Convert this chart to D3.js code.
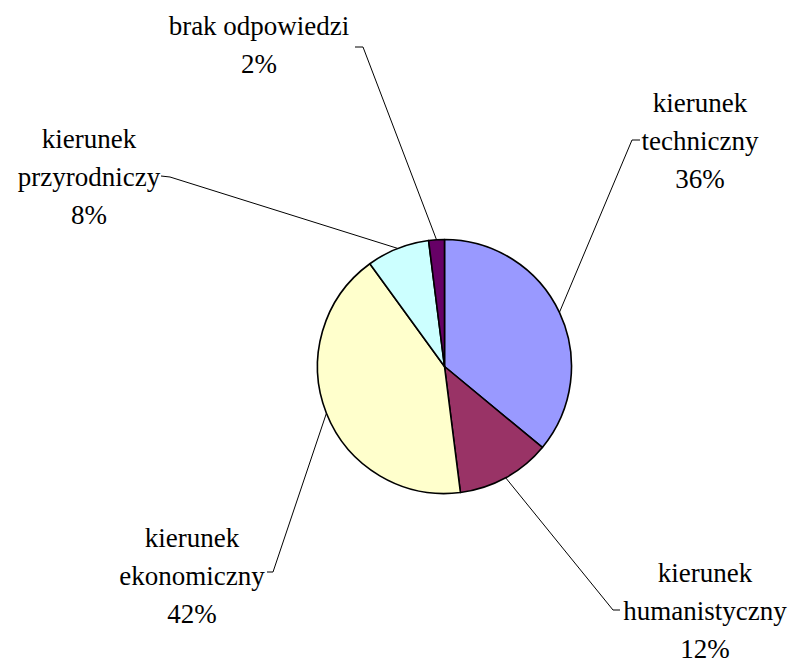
<!DOCTYPE html>
<html>
<head>
<script src="https://cdn.jsdelivr.net/npm/d3@7/dist/d3.min.js"></script>
<style>
@font-face { font-family: "RefSerif"; src: local("Liberation Serif"), local("LiberationSerif"), local("Times New Roman"), local("Tinos"); }
</style>
</head>
<body style="margin:0">
<svg id="chart" width="789" height="662"></svg>
<script>
// ---- data ----
const categories = ["kierunek techniczny", "kierunek humanistyczny", "kierunek ekonomiczny", "kierunek przyrodniczy", "brak odpowiedzi"];
const values = [36, 12, 42, 8, 2];
const percentLabels = ["36%", "12%", "42%", "8%", "2%"];

// ---- styles / layout (separate from data) ----
const colors = ["#9999FF", "#993366", "#FFFFCC", "#CCFFFF", "#660066"];
const labelLines = [
  ["kierunek", "techniczny"],
  ["kierunek", "humanistyczny"],
  ["kierunek", "ekonomiczny"],
  ["kierunek", "przyrodniczy"],
  ["brak odpowiedzi"]
];
// label anchor (centre x, first baseline y), leader elbow and tick end
const labelLayout = [
  { cx: 700, y: 112, elbow: [632, 140], tick: [640, 140] },
  { cx: 705, y: 582, elbow: [613, 610], tick: [620, 610] },
  { cx: 192, y: 547, elbow: [273, 572], tick: [267, 572] },
  { cx: 89,  y: 148, elbow: [170, 177], tick: [161, 176] },
  { cx: 259, y: 35,  elbow: [363, 47],  tick: [355, 47] }
];
const lineHeight = 38;
const center = [444.5, 366.5];
const radius = 127;
const fontStack = "'Liberation Serif', RefSerif, 'Times New Roman', Tinos, 'DejaVu Serif', serif";

const svg = d3.select("#chart");

const data = categories.map((c, i) => ({ name: c, value: values[i], pct: percentLabels[i], i }));

const pie = d3.pie().value(d => d.value).sort(null).startAngle(0).endAngle(2 * Math.PI);
const arcs = pie(data);

const g = svg.append("g").attr("transform", `translate(${center[0]},${center[1]})`);
const arc = d3.arc().innerRadius(0).outerRadius(radius);

g.selectAll("path.slice")
  .data(arcs)
  .enter().append("path")
  .attr("class", "slice")
  .attr("d", arc)
  .attr("fill", d => colors[d.data.i])
  .attr("stroke", "#000")
  .attr("stroke-width", 1.6)
  .attr("stroke-linejoin", "round");

// leader lines
arcs.forEach(a => {
  const mid = (a.startAngle + a.endAngle) / 2;
  const px = center[0] + radius * Math.sin(mid);
  const py = center[1] - radius * Math.cos(mid);
  const L = labelLayout[a.data.i];
  svg.append("path")
    .attr("d", d3.line()([[px, py], L.elbow, L.tick]))
    .attr("fill", "none")
    .attr("stroke", "#000")
    .attr("stroke-width", 1);
});

// labels
arcs.forEach(a => {
  const L = labelLayout[a.data.i];
  const rows = labelLines[a.data.i].concat([a.data.pct]);
  rows.forEach((r, k) => {
    svg.append("text")
      .attr("x", L.cx)
      .attr("y", L.y + k * lineHeight)
      .attr("text-anchor", "middle")
      .attr("fill", "#000")
      .attr("font-family", fontStack)
      .attr("font-size", 27)
      .style("font-family", fontStack)
      .style("font-size", "27px")
      .text(r);
  });
});
</script>
</body>
</html>
